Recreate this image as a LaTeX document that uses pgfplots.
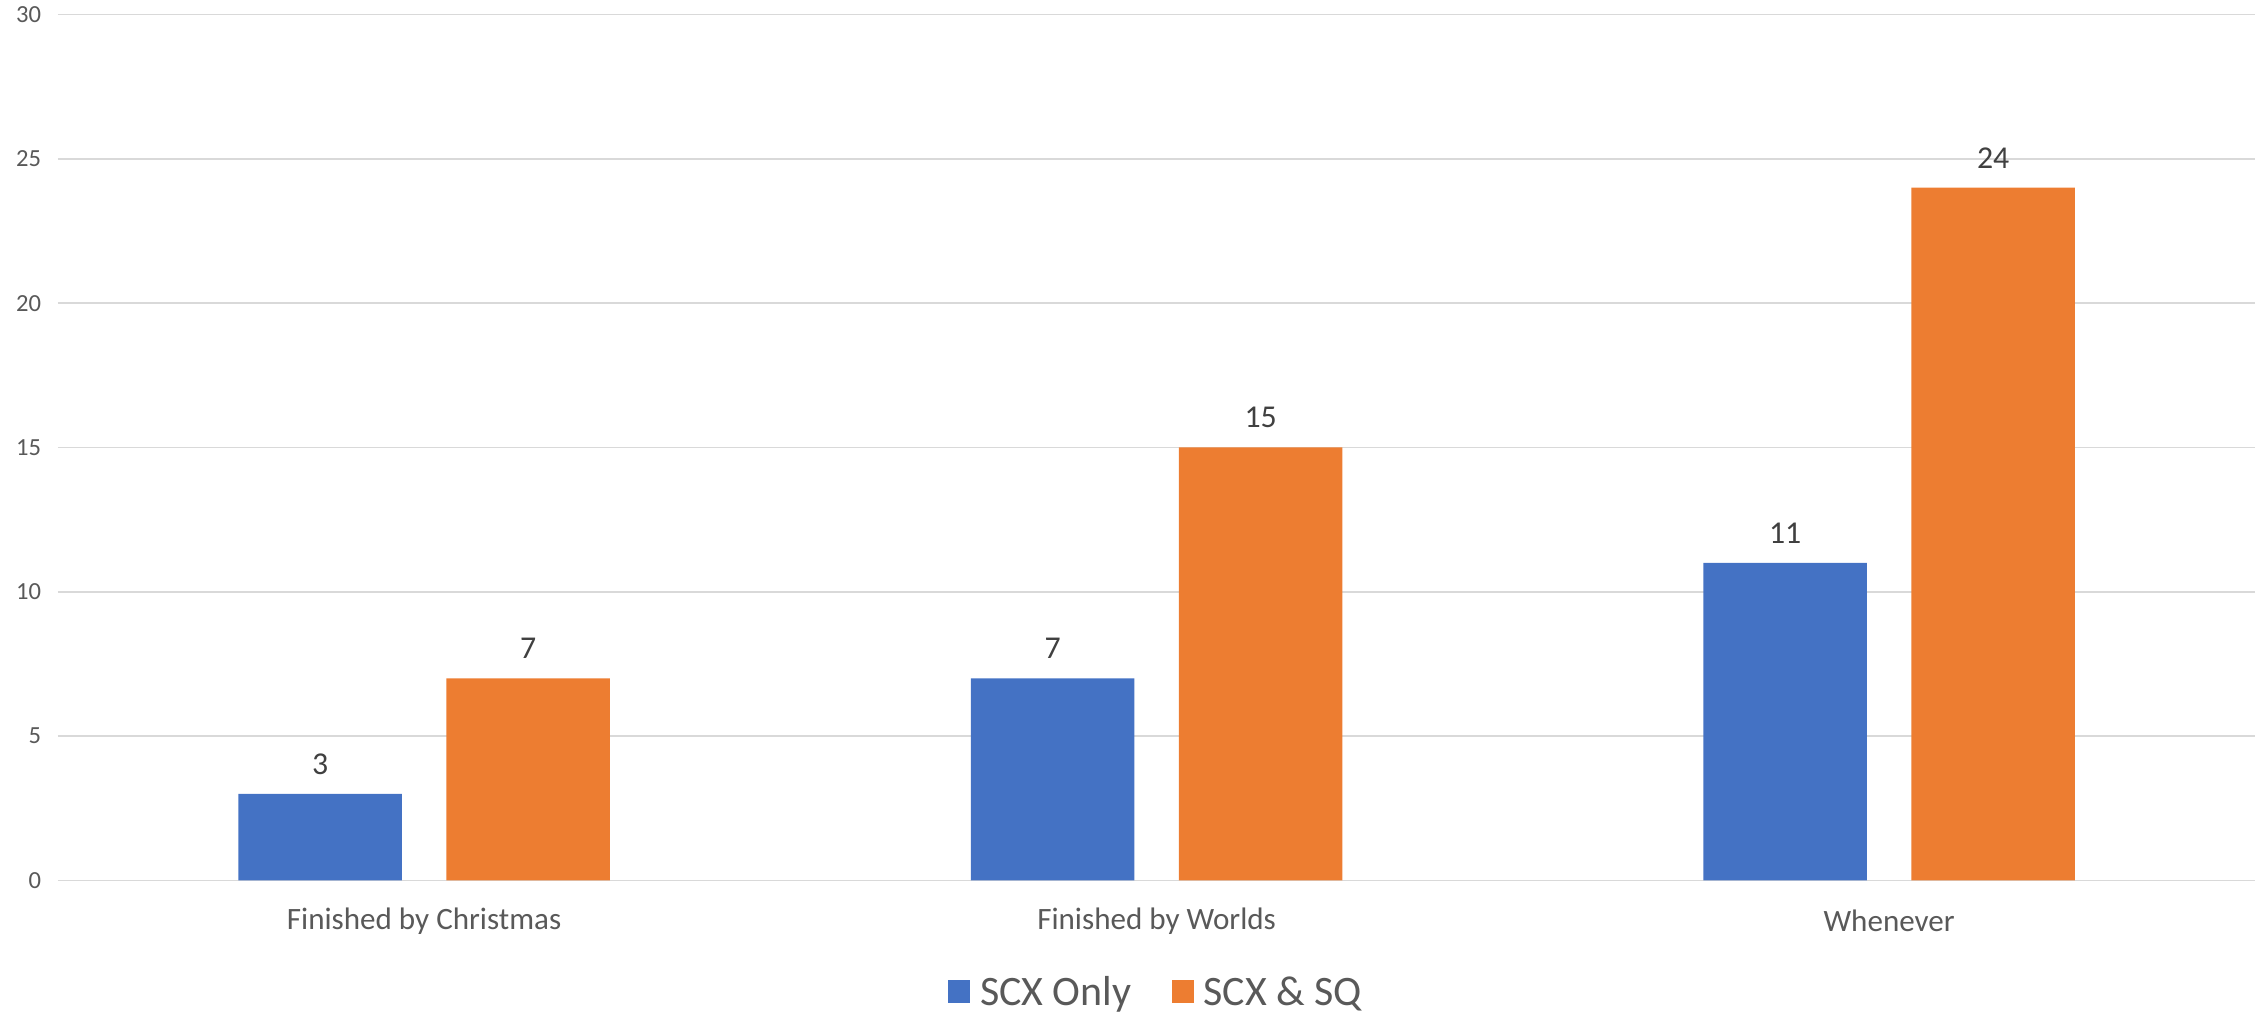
\documentclass[border=0pt]{standalone}
\usepackage{pgfplots}
\pgfplotsset{compat=1.18}
\usepackage{fontspec}
\setmainfont{Carlito}
\definecolor{scxblue}{HTML}{4472C4}
\definecolor{scxorange}{HTML}{ED7D31}
\definecolor{txtgray}{HTML}{595959}
\definecolor{valgray}{HTML}{404040}
\definecolor{gridgray}{HTML}{D9D9D9}
\begin{document}
\begin{tikzpicture}
 \useasboundingbox (-40pt,-92pt) rectangle (1528pt,609pt);
 \begin{axis}[
  scale only axis,
  width=1520pt,
  height=599pt,
  ybar,
  xmin=-0.5, xmax=2.5,
  ymin=0, ymax=30,
  xtick={0,1,2},
  xticklabels={Finished by Christmas, Finished by Worlds, Whenever},
  ytick={0,5,10,15,20,25,30},
  axis line style={draw=none},
  major tick length=0pt,
  ymajorgrids,
  major grid style={gridgray, line width=1pt},
  /pgf/number format/assume math mode=true,
  xticklabel style={anchor=center, yshift=-28pt, font=\fontsize{21.5}{24}\selectfont, text=txtgray},
  yticklabel style={anchor=east, xshift=-8pt, font=\fontsize{17}{20}\selectfont, text=txtgray},
  nodes near coords,
  nodes near coords style={font=\fontsize{22}{26}\selectfont, text=valgray, anchor=south, yshift=10pt},
  legend columns=2,
  legend style={at={(0.5,-0.1285)}, anchor=center, draw=none,
   font=\fontsize{29}{32}\selectfont, text=txtgray,
   /tikz/every odd column/.append style={column sep=5pt},
   /tikz/every even column/.append style={column sep=26pt}},
  legend image code/.code={\fill[#1] (0pt,-8pt) rectangle (15pt,8pt);},
 ]
  \addplot[draw=none, fill=scxblue, bar width=0.223, bar shift=-0.142] coordinates {
   (0, 3)
   (1, 7)
   (2, 11)};
  \addplot[draw=none, fill=scxorange, bar width=0.223, bar shift=0.142] coordinates {
   (0, 7)
   (1, 15)
   (2, 24)};
  \legend{SCX Only, SCX \& SQ}
 \end{axis}
\end{tikzpicture}
\end{document}
